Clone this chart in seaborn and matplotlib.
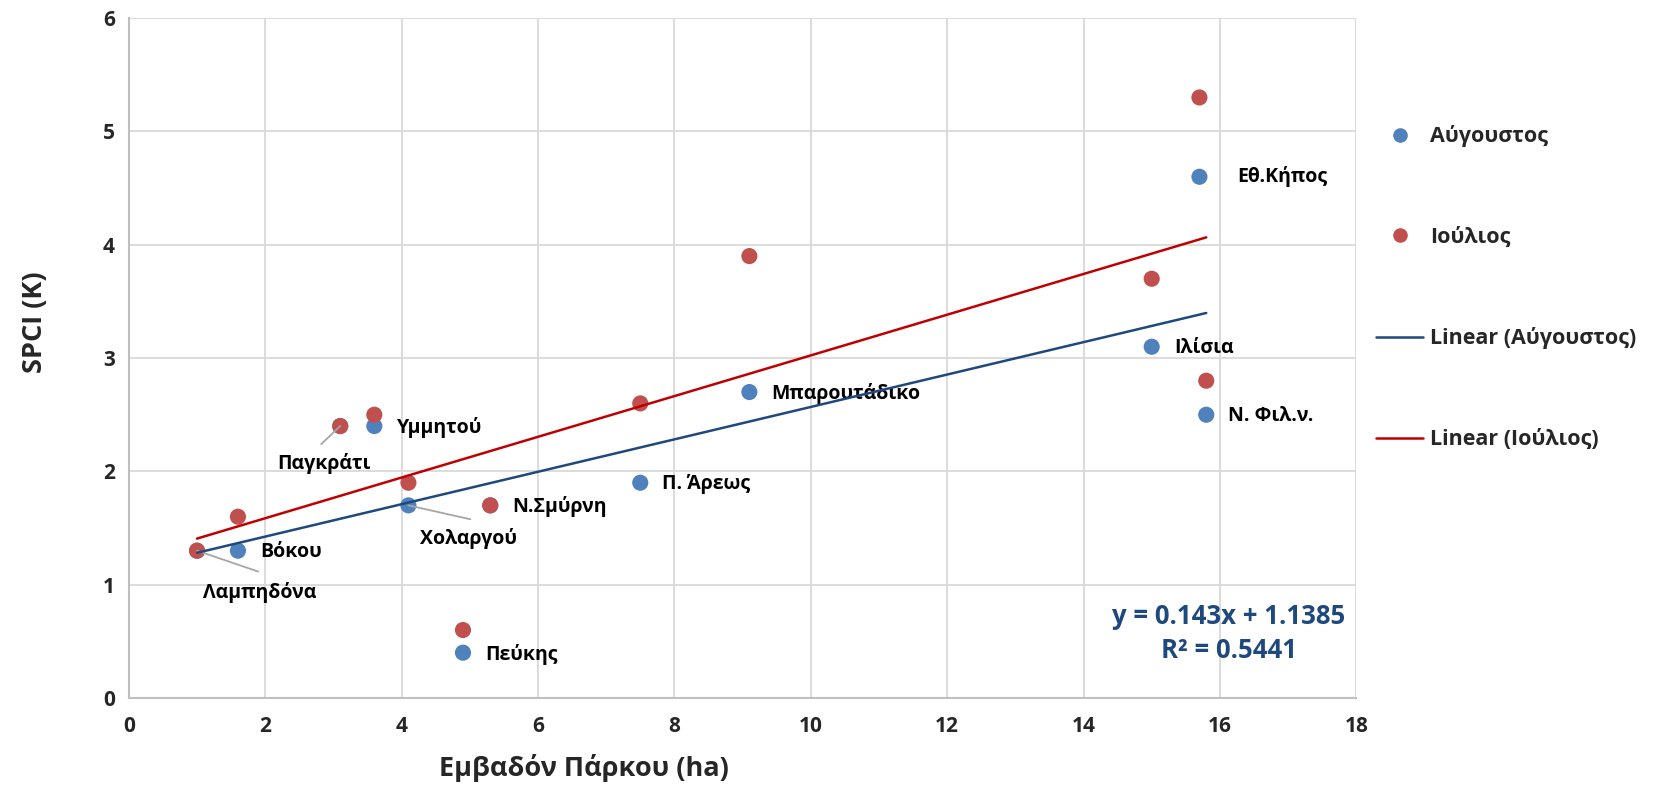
import numpy as np
import pandas as pd
import matplotlib
matplotlib.use("Agg")
import matplotlib.pyplot as plt
import seaborn as sns
from matplotlib.lines import Line2D

# Park names, area (ha) and SPCI (K) for the two months
parks = ["Λαμπηδόνα", "Βόκου", "Παγκράτι", "Υμμητού", "Χολαργού", "Ν.Σμύρνη",
         "Πεύκης", "Π. Άρεως", "Μπαρουτάδικο", "Ιλίσια", "Εθ.Κήπος", "Ν. Φιλ.ν."]
area_ha = [1.0, 1.6, 3.1, 3.6, 4.1, 5.3, 4.9, 7.5, 9.1, 15.0, 15.7, 15.8]
spci_aug = [1.3, 1.3, 2.4, 2.4, 1.7, 1.7, 0.4, 1.9, 2.7, 3.1, 4.6, 2.5]
spci_jul = [1.3, 1.6, 2.4, 2.5, 1.9, 1.7, 0.6, 2.6, 3.9, 3.7, 5.3, 2.8]
months = ["Αύγουστος", "Ιούλιος"]

# August linear trend as reported on the chart
aug_slope, aug_intercept, aug_r2 = 0.143, 1.1385, 0.5441

x_ticks = [0, 2, 4, 6, 8, 10, 12, 14, 16, 18]
y_ticks = [0, 1, 2, 3, 4, 5, 6]

# label placement: text offset in points, alignment, leader-line end offset
label_style = {
    "Λαμπηδόνα": ((45, -30), "center", (44, -15)),
    "Παγκράτι": ((-12, -27), "center", (-13.7, -13)),
    "Χολαργού": ((43, -24), "center", (44.6, -10)),
    "Εθ.Κήπος": ((27, 0), "left", None),
}
default_style = ((16, -1), "left", None)

c_aug, c_jul = "#4F81BD", "#C0504D"
c_aug_line, c_jul_line = "#1F497D", "#C00000"

sns.set_style("whitegrid")
plt.rcParams["font.family"] = ["Open Sans", "DejaVu Sans"]
plt.rcParams["font.weight"] = "bold"

df = pd.DataFrame({
    "area": area_ha + area_ha,
    "spci": spci_aug + spci_jul,
    "month": [months[0]] * len(area_ha) + [months[1]] * len(area_ha),
})

fig = plt.figure(figsize=(16.56, 7.88), dpi=100)
ax = fig.add_axes([0.0778, 0.1142, 0.819 - 0.0778, 0.977 - 0.1142])

sns.scatterplot(data=df, x="area", y="spci", hue="month", hue_order=months,
                palette={months[0]: c_aug, months[1]: c_jul},
                s=135, linewidth=0, legend=False, ax=ax, zorder=3)

# July trend: least squares fit of the July values
sns.regplot(x=np.array(area_ha), y=np.array(spci_jul), scatter=False, ci=None,
            truncate=True, color=c_jul_line, line_kws={"lw": 1.8, "zorder": 5}, ax=ax)

# August trend from its reported equation
xs = np.array([min(area_ha), max(area_ha)])
ax.plot(xs, aug_slope * xs + aug_intercept, color=c_aug_line, lw=1.8, zorder=5)

for name, xv, yv in zip(parks, area_ha, spci_aug):
    (dx, dy), ha, leader = label_style.get(name, default_style)
    ax.annotate(name, xy=(xv, yv), xytext=(dx, dy), textcoords="offset points",
                ha=ha, va="center", fontsize=14, fontweight="bold",
                color="black", zorder=4)
    if leader is not None:
        ax.annotate("", xy=(xv, yv), xytext=leader, textcoords="offset points",
                    arrowprops=dict(arrowstyle="-", color="#A6A6A6", lw=1.3,
                                    shrinkA=0, shrinkB=0), zorder=4)

ax.text(0.896, 0.095, f"y = {aug_slope}x + {aug_intercept}\nR² = {aug_r2}",
        transform=ax.transAxes, ha="center", va="center", fontsize=18.5,
        fontweight="bold", color=c_aug_line, linespacing=1.3, zorder=6,
        multialignment="center")

ax.set_xlim(0, 18)
ax.set_ylim(0, 6)
ax.set_xticks(x_ticks)
ax.set_yticks(y_ticks)
ax.tick_params(axis="both", length=0, labelsize=15)
ax.tick_params(axis="x", pad=13)
ax.tick_params(axis="y", pad=10)
for lab in ax.get_xticklabels() + ax.get_yticklabels():
    lab.set_fontweight("bold")

ax.grid(True, color="#D9D9D9", lw=1.3)
for side in ["top", "right"]:
    ax.spines[side].set_visible(False)
for side in ["left", "bottom"]:
    ax.spines[side].set_color("#BFBFBF")
    ax.spines[side].set_linewidth(1.5)

ax.set_xlabel("Εμβαδόν Πάρκου (ha)", fontsize=19.5, fontweight="bold")
ax.set_ylabel("SPCI (K)", fontsize=19.5, fontweight="bold")
ax.xaxis.set_label_coords(0.371, -0.082)
ax.yaxis.set_label_coords(-0.066, 0.553)

handles = [
    Line2D([], [], ls="none", marker="o", ms=10.5, mfc=c_aug, mec="none"),
    Line2D([], [], ls="none", marker="o", ms=10.5, mfc=c_jul, mec="none"),
    Line2D([], [], color=c_aug_line, lw=1.8),
    Line2D([], [], color=c_jul_line, lw=1.8),
]
labels = months + [f"Linear ({m})" for m in months]
leg = fig.legend(handles, labels, loc="center left", bbox_to_anchor=(0.831, 0.635),
                 frameon=False, borderpad=0, borderaxespad=0, handlelength=2.2,
                 handletextpad=0.3, labelspacing=3.7,
                 prop={"size": 15.5, "weight": "bold"})

fig.savefig("out.png", dpi=100)
